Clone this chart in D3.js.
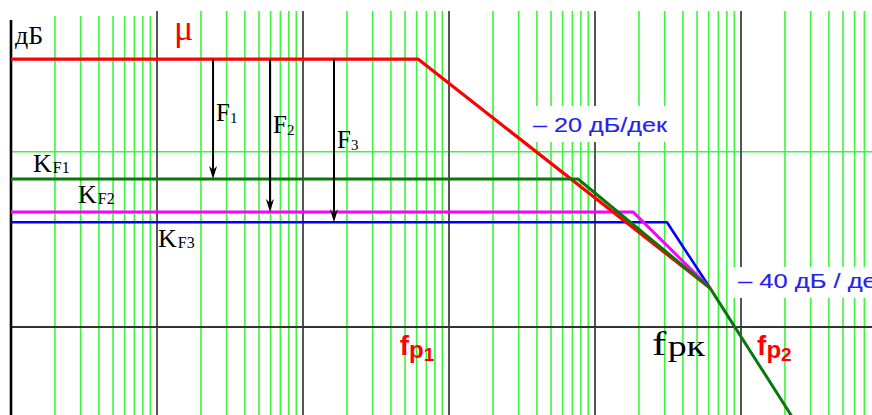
<!DOCTYPE html>
<html>
<head>
<meta charset="utf-8">
<script src="https://cdn.jsdelivr.net/npm/d3@7"></script>
<style>
  html, body { margin: 0; padding: 0; background: #fff; }
  svg { display: block; }
</style>
</head>
<body>
<svg id="chart" width="872" height="415"></svg>
<script>
// Open-loop gain μ and closed-loop gains K_F for three feedback depths (Bode asymptotes)
const muFreq  = [1, 613, 61400];
const muDb    = [46.8, 46.8, 6.8];

const kf1Freq = [1, 7650, 61400, 250000];
const kf1Db   = [25.85, 25.85, 6.8, -17.6];

const kf2Freq = [1, 18200, 61400];
const kf2Db   = [20.1, 20.1, 6.8];

const kf3Freq = [1, 31100, 61400];
const kf3Db   = [18.3, 18.3, 6.8];

// Feedback depth arrows F1..F3 (frequency position, drop from μ to K_F)
const arrowFreq = [24.2, 59.4, 163];
const arrowTo   = [25.85, 20.1, 18.3];
const arrowName = ["1", "2", "3"];

// Horizontal reference levels
const axisDb = 0;
const gridDb = [30.6];

// Characteristic frequencies for the labels
const fp1Freq = 460;
const fpkFreq = 24600;
const fp2Freq = 128800;

const W = 872, H = 415;
const svg = d3.select("#chart");

const x = d3.scaleLog().domain([1, 1e6]).range([11, 887]);
const y = d3.scaleLinear().domain([0, 50]).range([327, 40.75]);

const sans = "'Liberation Sans', Arial, sans-serif";
const serif = "'Liberation Serif', 'Times New Roman', serif";

// ---- grid ----
const gridTicks = x.ticks().filter(f => f > 1 && x(f) < W);
const isDecade = f => Math.abs(Math.log10(f) - Math.round(Math.log10(f))) < 1e-9;
const gridTop = f => (f < 10 ? 16 : 11);

svg.append("g").selectAll("line")
  .data(gridTicks.filter(f => !isDecade(f)))
  .join("line")
  .attr("x1", d => x(d)).attr("x2", d => x(d))
  .attr("y1", d => gridTop(d)).attr("y2", H)
  .attr("stroke", "#3df53d").attr("stroke-width", 1.6);

svg.append("g").selectAll("line")
  .data(gridDb)
  .join("line")
  .attr("x1", x(1)).attr("x2", W)
  .attr("y1", d => y(d)).attr("y2", d => y(d))
  .attr("stroke", "#3df53d").attr("stroke-width", 1.6);

svg.append("g").selectAll("line")
  .data(gridTicks.filter(isDecade))
  .join("line")
  .attr("x1", d => x(d)).attr("x2", d => x(d))
  .attr("y1", 11).attr("y2", H)
  .attr("stroke", "#555").attr("stroke-width", 2);

// frequency axis (0 dB) and dB axis
svg.append("line")
  .attr("x1", x(1)).attr("x2", W)
  .attr("y1", y(axisDb)).attr("y2", y(axisDb))
  .attr("stroke", "#333").attr("stroke-width", 2);
svg.append("line")
  .attr("x1", x(1)).attr("x2", x(1))
  .attr("y1", 20).attr("y2", H)
  .attr("stroke", "#000").attr("stroke-width", 2.6);

// white backings for the slope labels
svg.append("rect").attr("x", 528).attr("y", 106).attr("width", 144).attr("height", 36).attr("fill", "#fff");
svg.append("rect").attr("x", 728).attr("y", 267).attr("width", 144).attr("height", 31).attr("fill", "#fff");

// ---- curves ----
const line = d3.line().x(d => x(d[0])).y(d => y(d[1]));
const curves = [
  { f: kf3Freq, db: kf3Db, color: "#0000ff", w: 2.6 },
  { f: kf2Freq, db: kf2Db, color: "#ff00ff", w: 3 },
  { f: muFreq,  db: muDb,  color: "#ff0000", w: 3.2 },
  { f: kf1Freq, db: kf1Db, color: "#0b760b", w: 3 }
];
svg.append("g").selectAll("path")
  .data(curves)
  .join("path")
  .attr("d", c => line(d3.zip(c.f, c.db)))
  .attr("fill", "none")
  .attr("stroke", c => c.color)
  .attr("stroke-width", c => c.w)
  .attr("stroke-linejoin", "round");

// ---- feedback arrows ----
const arrows = svg.append("g");
arrowFreq.forEach((f, i) => {
  const ax = x(f), y0 = y(muDb[0]), y1 = y(arrowTo[i]);
  arrows.append("line")
    .attr("x1", ax).attr("x2", ax)
    .attr("y1", y0).attr("y2", y1 - 4)
    .attr("stroke", "#000").attr("stroke-width", 2);
  arrows.append("path")
    .attr("d", `M${ax},${y1} L${ax - 4},${y1 - 13} L${ax},${y1 - 9} L${ax + 4},${y1 - 13} Z`)
    .attr("fill", "#000");
});

// ---- labels ----
const txt = (px, py, size, family, color) => svg.append("text")
  .attr("x", px).attr("y", py)
  .attr("font-size", size).attr("font-family", family).attr("fill", color);

txt(15, 44, 26, serif, "#000").text("дБ");
txt(174, 40, 36, serif, "#ff0000").text("μ");

// F1..F3
const fLabelY = [121, 133, 148];
arrowFreq.forEach((f, i) => {
  const t = txt(x(f) + 3, fLabelY[i], 25, serif, "#000");
  t.append("tspan").text("F");
  t.append("tspan").attr("font-size", 15).attr("dy", 2).text(arrowName[i]);
});

// K_F labels
const kLabels = [
  { px: 33,  py: y(kf1Db[0]) - 7, n: "1" },
  { px: 78,  py: y(kf2Db[0]) - 9, n: "2" },
  { px: 158, py: y(kf3Db[0]) + 25, n: "3" }
];
kLabels.forEach(k => {
  const t = txt(k.px, k.py, 26, serif, "#000");
  t.append("tspan").text("K");
  t.append("tspan").attr("font-size", 16).attr("dy", 1).attr("dx", 1).text("F" + k.n);
});

// slope labels
txt(533, 132, 21, sans, "#2323f0")
  .attr("stroke", "#2323f0").attr("stroke-width", 0.15)
  .attr("textLength", 134).attr("lengthAdjust", "spacingAndGlyphs")
  .text("– 20 дБ/дек");
txt(738, 288, 21, sans, "#2323f0")
  .attr("stroke", "#2323f0").attr("stroke-width", 0.15)
  .attr("textLength", 150).attr("lengthAdjust", "spacingAndGlyphs")
  .text("– 40 дБ / дек");

// frequency labels
const fLab = (f, sub) => {
  const t = txt(x(f), 355, 28, sans, "#ff0000").attr("font-weight", "bold");
  t.append("tspan").text("f");
  t.append("tspan").attr("font-size", 24).attr("dy", 3).text("p");
  t.append("tspan").attr("font-size", 19).attr("dy", 3).text(sub);
};
fLab(fp1Freq, "1");
fLab(fp2Freq, "2");

const fk = txt(x(fpkFreq), 355, 34, serif, "#000")
  .attr("textLength", 53).attr("lengthAdjust", "spacingAndGlyphs");
fk.append("tspan").text("f");
fk.append("tspan").attr("font-size", 30).attr("dy", 1).attr("dx", 1).text("рк");
</script>
</body>
</html>
